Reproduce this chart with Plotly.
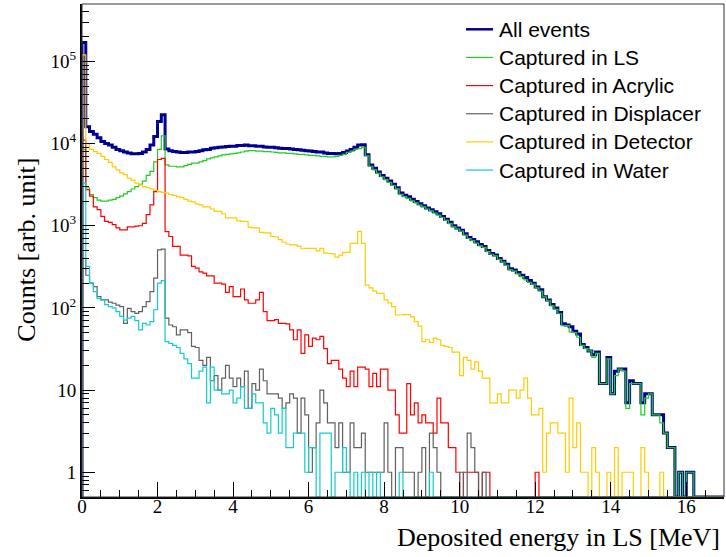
import numpy as np
import plotly.graph_objects as go

# Histogram binning: 170 bins of 0.1 MeV from 0 to 17 MeV
BIN_WIDTH = 0.1
N_BINS = 170
YMIN, YMAX = 0.5, 5e5

# Deposited energy spectra (counts per 0.1 MeV bin)
all_events = [
    170000, 16000, 14000, 13000, 11800, 10600, 10000, 9600, 9000, 8500,
    8200, 7900, 7700, 7500, 7500, 7600, 7900, 8500, 9600, 12200,
    18600, 22500, 8600, 8200, 8000, 7900, 7800, 7800, 7900, 7900,
    8000, 8200, 8400, 8500, 8800, 8900, 9000, 9100, 9200, 9300,
    9300, 9500, 9500, 9600, 9400, 9400, 9300, 9300, 9100, 9000,
    9000, 8900, 8800, 8700, 8700, 8600, 8500, 8400, 8300, 8200,
    8100, 8000, 7900, 7900, 7700, 7600, 7600, 7500, 7600, 7800,
    8100, 8500, 9000, 9600, 9700, 7300, 5500, 5000, 4500, 4100,
    3800, 3500, 3200, 2900, 2500, 2350, 2250, 2100, 1980, 1850,
    1750, 1650, 1570, 1480, 1400, 1300, 1200, 1100, 1000, 940,
    880, 800, 720, 680, 640, 590, 560, 500, 460, 440,
    400, 370, 340, 300, 290, 270, 250, 235, 215, 200,
    180, 166, 137, 125, 110, 100, 88, 64, 62, 59,
    52, 48, 36, 33, 30, 27, 29, 12, 12, 25,
    9, 17, 18, 18, 7, 13, 12, 12, 7, 9,
    9, 5, 5, 5, 3, 2, 2, 0, 1, 0,
    1, 1, 0, 0, 0, 0, 0, 0, 0, 0,
]

captured_ls = [
    8500, 2900, 2400, 2200, 2050, 2000, 2000, 2050, 2100, 2200,
    2300, 2450, 2600, 2800, 3000, 3200, 3500, 4100, 4600, 6000,
    8500, 12400, 5500, 5300, 5300, 5200, 5200, 5400, 5600, 5800,
    5800, 6000, 6200, 6500, 6700, 6900, 7100, 7300, 7400, 7500,
    7600, 7700, 7900, 8100, 8200, 8200, 8100, 8100, 8000, 8000,
    7900, 7800, 7700, 7700, 7600, 7600, 7500, 7400, 7400, 7300,
    7200, 7200, 7100, 7000, 7000, 6900, 6900, 7000, 7200, 7400,
    7800, 8100, 8500, 8700, 9000, 7100, 5300, 4800, 4350, 3950,
    3650, 3370, 3090, 2810, 2410, 2260, 2150, 2010, 1900, 1790,
    1700, 1600, 1520, 1430, 1350, 1260, 1160, 1060, 970, 910,
    860, 770, 700, 660, 615, 570, 545, 485, 450, 430,
    390, 360, 330, 290, 280, 260, 240, 220, 205, 195,
    175, 160, 136, 122, 106, 96, 85, 61, 61, 51,
    50, 44, 35, 32, 30, 25, 28, 12, 12, 24,
    9, 15, 18, 17, 6, 12, 12, 12, 5, 8,
    9, 5, 5, 4, 3, 2, 2, 0, 1, 0,
    1, 1, 0, 0, 0, 0, 0, 0, 0, 0,
]

captured_acrylic = [
    11000, 2750, 2300, 1700, 1570, 1300, 1130, 1100, 1030, 940,
    890, 890, 970, 970, 990, 1000, 1070, 1370, 1800, 2600,
    6400, 6600, 850, 740, 560, 560, 440, 440, 430, 320,
    305, 275, 265, 245, 245, 200, 200, 195, 155, 182,
    137, 137, 170, 125, 114, 114, 125, 155, 90, 70,
    70, 72, 65, 65, 64, 54, 41, 54, 28, 47,
    34, 43, 41, 45, 32, 21, 23, 23, 18, 14,
    11, 17, 11, 19, 19, 18, 11, 16, 11, 18,
    18, 10, 10, 5, 3, 3, 12, 5, 7, 4,
    5, 4, 4, 3, 8, 4, 4, 2, 2, 1,
    0, 1, 1, 1, 1, 0, 1, 1, 0, 0,
    0, 0, 0, 0, 0, 0, 0, 0, 0, 0,
    1, 0, 0, 0, 0, 0, 0, 0, 0, 0,
    0, 0, 0, 0, 0, 0, 0, 0, 0, 0,
    0, 0, 0, 0, 0, 0, 0, 0, 0, 0,
    0, 0, 0, 0, 0, 0, 0, 0, 0, 0,
    0, 0, 0, 0, 0, 0, 0, 0, 0, 0,
]

captured_displacer = [
    400, 250, 200, 182, 137, 125, 125, 118, 114, 108,
    104, 65, 99, 90, 86, 90, 104, 119, 158, 230,
    510, 520, 75, 62, 59, 47, 54, 54, 50, 34,
    33, 23, 20, 25, 13, 15, 10, 14, 20, 14,
    11, 14, 11, 17, 6, 12, 10, 18, 13, 9,
    9, 9, 8, 6, 7, 9, 8, 3, 8, 5,
    1, 2, 4, 10, 7, 4, 4, 2, 4, 1,
    1, 4, 2, 2, 3, 1, 1, 1, 1, 1,
    4, 1, 0, 2, 2, 1, 1, 1, 0, 1,
    2, 0, 3, 2, 1, 0, 0, 0, 0, 0,
    1, 0, 3, 2, 1, 0, 1, 0, 0, 0,
    0, 0, 0, 0, 0, 0, 0, 0, 0, 0,
    0, 0, 0, 0, 0, 0, 0, 0, 0, 0,
    0, 0, 0, 0, 0, 0, 0, 0, 0, 0,
    0, 0, 0, 0, 0, 0, 0, 0, 0, 0,
    0, 0, 0, 0, 0, 0, 0, 0, 0, 0,
    0, 0, 0, 0, 0, 0, 0, 0, 0, 0,
]

captured_detector = [
    120000, 10000, 8500, 8000, 7600, 7000, 6400, 5900, 5200, 4800,
    4400, 4200, 3800, 3600, 3300, 3150, 3000, 2900, 2800, 2700,
    2600, 2550, 2500, 2400, 2350, 2250, 2200, 2100, 2000, 1950,
    1850, 1800, 1700, 1700, 1600, 1500, 1500, 1400, 1250, 1250,
    1250, 1150, 1130, 1130, 960, 940, 940, 830, 820, 820,
    740, 730, 680, 630, 600, 585, 585, 560, 525, 530,
    530, 530, 495, 530, 465, 460, 455, 415, 440, 475,
    475, 610, 610, 855, 610, 190, 175, 160, 150, 150,
    125, 115, 104, 82, 82, 83, 83, 78, 68, 60,
    39, 41, 38, 43, 41, 35, 34, 33, 29, 29,
    15, 25, 23, 18, 22, 17, 14, 14, 7, 7,
    9, 7, 7, 10, 10, 8, 10, 14, 8, 5,
    5, 6, 1, 3, 4, 4, 3, 3, 1, 8,
    2, 4, 1, 1, 0, 2, 1, 0, 0, 1,
    0, 2, 0, 1, 1, 1, 0, 0, 2, 1,
    0, 0, 0, 1, 0, 0, 0, 0, 0, 0,
    0, 0, 0, 0, 0, 0, 0, 0, 0, 0,
]

captured_water = [
    3300, 320, 200, 158, 130, 125, 110, 104, 100, 90,
    79, 71, 75, 79, 70, 54, 65, 62, 68, 95,
    200, 215, 39, 37, 35, 33, 28, 24, 21, 14,
    14, 17, 19, 7, 19, 10, 10, 9, 9, 10,
    7, 8, 11, 6, 6, 9, 7, 7, 4, 3,
    6, 5, 3, 6, 2, 2, 3, 3, 3, 1,
    2, 2, 0, 3, 3, 3, 0, 1, 1, 2,
    1, 0, 1, 0, 1, 0, 1, 0, 1, 0,
    0, 0, 0, 0, 1, 0, 0, 0, 0, 0,
    0, 0, 1, 0, 0, 0, 0, 0, 0, 0,
    0, 0, 0, 0, 0, 0, 0, 0, 0, 0,
    0, 0, 0, 0, 0, 0, 0, 0, 0, 0,
    0, 0, 0, 0, 0, 0, 0, 0, 0, 0,
    0, 0, 0, 0, 0, 0, 0, 0, 0, 0,
    0, 0, 0, 0, 0, 0, 0, 0, 0, 0,
    0, 0, 0, 0, 0, 0, 0, 0, 0, 0,
    0, 0, 0, 0, 0, 0, 0, 0, 0, 0,
]

series = [
    ("All events", all_events, "#000090", 3.0),
    ("Captured in LS", captured_ls, "#22cc22", 1.2),
    ("Captured in Acrylic", captured_acrylic, "#ff0000", 1.2),
    ("Captured in Displacer", captured_displacer, "#606060", 1.2),
    ("Captured in Detector", captured_detector, "#ffcc00", 1.2),
    ("Captured in Water", captured_water, "#11cccc", 1.2),
]

edges = np.round(np.arange(N_BINS + 1) * BIN_WIDTH, 3)


def step_xy(counts):
    """Outline of a histogram: empty bins sit on the bottom of the frame."""
    c = np.asarray(counts, dtype=float)
    c = np.where(c > 0, c, YMIN)
    x = np.concatenate([[edges[0]], edges[:-1], [edges[-1]]])
    y = np.concatenate([[YMIN], c, [c[-1]]])
    return x, y


fig = go.Figure()
for name, counts, color, width in series:
    x, y = step_xy(counts)
    fig.add_trace(go.Scatter(
        x=x, y=y, mode="lines", name=name,
        line=dict(color=color, width=width, shape="hv"),
        showlegend=False, hoverinfo="skip",
    ))

SERIF = "Liberation Serif, Times New Roman, serif"
SANS = "Liberation Sans, Arial, sans-serif"

y_major = [1, 10, 100, 1e3, 1e4, 1e5]
y_major_text = ["1", "10", "10<sup>2</sup>", "10<sup>3</sup>", "10<sup>4</sup>", "10<sup>5</sup>"]
y_minor = [m * 10.0 ** d for d in range(-1, 6) for m in range(2, 10)
           if YMIN <= m * 10.0 ** d <= YMAX]

fig.update_layout(
    width=726, height=557,
    margin=dict(l=82, r=2, t=4, b=60),
    paper_bgcolor="white", plot_bgcolor="white",
    showlegend=False,
    xaxis=dict(
        range=[0, 17],
        tickvals=list(range(0, 17, 2)),
        ticks="inside", ticklen=15, tickwidth=1, tickcolor="black",
        showline=True, linecolor="black", linewidth=2,
        showgrid=False, zeroline=False,
        ticklabelstandoff=-9,
        minor=dict(dtick=0.5, tick0=0, ticks="inside", ticklen=7,
                   tickwidth=1, tickcolor="black", showgrid=False),
        tickfont=dict(family=SERIF, size=19, color="black"),
    ),
    yaxis=dict(
        type="log",
        range=[np.log10(YMIN), np.log10(YMAX)],
        tickvals=y_major, ticktext=y_major_text,
        ticks="inside", ticklen=13, tickwidth=1, tickcolor="black",
        showline=True, linecolor="black", linewidth=2,
        showgrid=False, zeroline=False,
        minor=dict(tickvals=y_minor, ticks="inside", ticklen=7,
                   tickwidth=1, tickcolor="black", showgrid=False),
        tickfont=dict(family=SERIF, size=19, color="black"),
    ),
)

# Frame around the plotting area
fig.add_shape(type="rect", xref="paper", yref="paper", x0=0, y0=0, x1=1, y1=1,
              line=dict(color="#333333", width=1), layer="above")

# Axis titles
fig.add_annotation(text="Deposited energy in LS [MeV]", xref="paper", yref="paper",
                   x=0.997, y=-0.083, xanchor="right", yanchor="middle",
                   showarrow=False, font=dict(family=SERIF, size=26, color="black"))
fig.add_annotation(text="Counts [arb. unit]", xref="paper", yref="paper",
                   x=-0.087, y=0.502, xanchor="center", yanchor="middle",
                   textangle=-90, showarrow=False,
                   font=dict(family=SERIF, size=26, color="black"))

# Legend drawn as line samples with labels
plot_w, plot_h = 642.0, 493.0
for i, (name, _, color, width) in enumerate(series):
    y_px = 29.3 + 28.15 * i
    yp = 1 - (y_px - 4) / plot_h
    fig.add_shape(type="line", xref="paper", yref="paper",
                  x0=(466 - 82) / plot_w, x1=(493 - 82) / plot_w, y0=yp, y1=yp,
                  line=dict(color=color, width=2.5 if width > 2 else 1.2))
    fig.add_annotation(text=name, xref="paper", yref="paper",
                       x=(497 - 82) / plot_w, y=yp, xanchor="left", yanchor="middle",
                       showarrow=False, font=dict(family=SANS, size=21, color="black"))

fig.write_html("out.html")
